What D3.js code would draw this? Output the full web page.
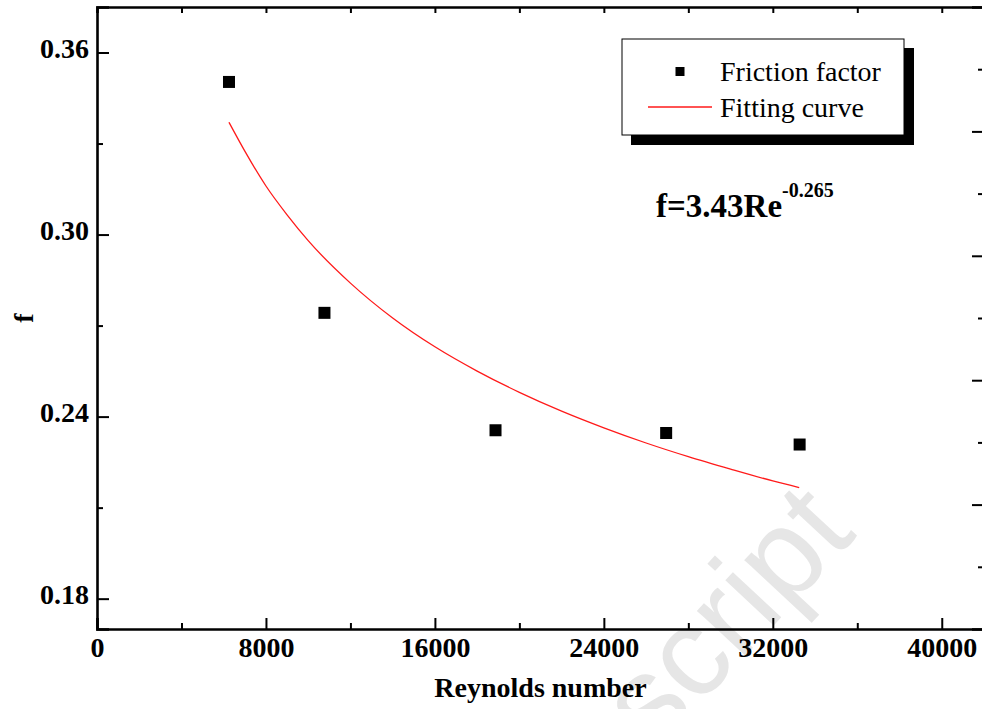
<!DOCTYPE html>
<html>
<head>
<meta charset="utf-8">
<script src="https://cdn.jsdelivr.net/npm/d3@7/dist/d3.min.js"></script>
<style>
  body { margin: 0; background: #fff; }
  svg text { font-family: "Liberation Serif", "Times New Roman", serif; fill: #000; }
  .axis path, .axis line { stroke: #000; }
  .axis text { font-size: 28px; font-weight: bold; }
</style>
</head>
<body>
<div id="chart"></div>
<script>
// measured friction factor points
const reynolds = [6250, 10770, 18870, 26950, 33270];
const friction = [0.3503, 0.2742, 0.2355, 0.2346, 0.2308];

// fitting curve
const fitRe = [6250, 7000, 8000, 9000, 10000, 12000, 14000, 16000, 18000, 20000, 22000, 24000, 26000, 28000, 30000, 32000, 33250];
const fitF = [0.337, 0.3275, 0.316, 0.3065, 0.298, 0.284, 0.2725, 0.263, 0.255, 0.248, 0.2418, 0.2363, 0.2313, 0.2268, 0.2227, 0.2188, 0.2166];

const xTicks = [0, 8000, 16000, 24000, 32000, 40000];
const yTicks = [0.18, 0.24, 0.30, 0.36];

const width = 982, height = 709;
const margin = { top: 7, right: -2, bottom: 80, left: 97 };
const plotW = width - margin.left - margin.right;
const plotH = height - margin.top - margin.bottom;

const svg = d3.select("#chart").append("svg")
    .attr("width", width)
    .attr("height", height);

// faint watermark behind the plot
svg.append("text")
    .attr("transform", "translate(858,535) rotate(-47)")
    .attr("text-anchor", "end")
    .style("font-family", "'Liberation Sans', Arial, sans-serif")
    .style("font-size", "125px")
    .style("fill", "#e6e6e6")
    .text("Manuscript");

const g = svg.append("g")
    .attr("transform", `translate(${margin.left},${margin.top})`);

const x = d3.scaleLinear().domain([0, 42000]).range([0, plotW]);
const y = d3.scaleLinear().domain([0.17, 0.375]).range([plotH, 0]);
// unlabelled right-hand axis
const y2 = d3.scaleLinear().domain([0, 5]).range([plotH, 0]);

// bottom axis
g.append("g")
    .attr("class", "axis")
    .attr("transform", `translate(0,${plotH})`)
    .call(d3.axisBottom(x).tickValues(xTicks).tickSize(-11).tickPadding(8).tickFormat(d3.format("d")))
    .call(a => a.select(".domain").attr("stroke-width", 2.6))
    .call(a => a.selectAll(".tick line").attr("stroke-width", 2));

g.append("g")
    .attr("class", "axis")
    .attr("transform", `translate(0,${plotH})`)
    .call(d3.axisBottom(x).tickValues(d3.range(4000, 42000, 8000)).tickSize(-6).tickFormat(""))
    .call(a => a.select(".domain").remove())
    .call(a => a.selectAll(".tick line").attr("stroke-width", 2));

// top axis
g.append("g")
    .attr("class", "axis")
    .call(d3.axisTop(x).tickValues(d3.range(4000, 42000, 4000)).tickSize(-6).tickFormat(""))
    .call(a => a.select(".domain").attr("stroke-width", 2.6))
    .call(a => a.selectAll(".tick line").attr("stroke-width", 2));

// left axis
g.append("g")
    .attr("class", "axis")
    .call(d3.axisLeft(y).tickValues(yTicks).tickSize(-12).tickPadding(8).tickFormat(d3.format(".2f")))
    .call(a => a.select(".domain").attr("stroke-width", 2.6))
    .call(a => a.selectAll(".tick line").attr("stroke-width", 2))
    .call(a => a.selectAll(".tick text").attr("dy", "0.17em"));

g.append("g")
    .attr("class", "axis")
    .call(d3.axisLeft(y).tickValues([0.21, 0.27, 0.33]).tickSize(-6).tickFormat(""))
    .call(a => a.select(".domain").remove())
    .call(a => a.selectAll(".tick line").attr("stroke-width", 2));

// right axis
g.append("g")
    .attr("class", "axis")
    .attr("transform", `translate(${plotW},0)`)
    .call(d3.axisRight(y2).tickValues([1, 2, 3, 4]).tickSize(-12).tickFormat(""))
    .call(a => a.select(".domain").attr("stroke-width", 2.6))
    .call(a => a.selectAll(".tick line").attr("stroke-width", 2));

g.append("g")
    .attr("class", "axis")
    .attr("transform", `translate(${plotW},0)`)
    .call(d3.axisRight(y2).tickValues([0.5, 1.5, 2.5, 3.5, 4.5]).tickSize(-6).tickFormat(""))
    .call(a => a.select(".domain").remove())
    .call(a => a.selectAll(".tick line").attr("stroke-width", 2));

// axis titles
svg.append("text")
    .attr("x", margin.left + plotW / 2)
    .attr("y", 697)
    .attr("text-anchor", "middle")
    .style("font-size", "28px")
    .style("font-weight", "bold")
    .text("Reynolds number");

svg.append("text")
    .attr("transform", `translate(33,${margin.top + plotH / 2}) rotate(-90)`)
    .attr("text-anchor", "middle")
    .style("font-size", "28px")
    .style("font-weight", "bold")
    .text("f");

// fitting curve
const fitData = fitRe.map((r, i) => ({ re: r, f: fitF[i] }));
g.append("path")
    .datum(fitData)
    .attr("fill", "none")
    .attr("stroke", "#ff1a1a")
    .attr("stroke-width", 1.3)
    .attr("d", d3.line().x(d => x(d.re)).y(d => y(d.f)).curve(d3.curveMonotoneX));

// data points
const pts = reynolds.map((r, i) => ({ re: r, f: friction[i] }));
const sq = 12;
g.selectAll(".pt")
    .data(pts)
    .enter().append("rect")
    .attr("class", "pt")
    .attr("x", d => x(d.re) - sq / 2)
    .attr("y", d => y(d.f) - sq / 2)
    .attr("width", sq)
    .attr("height", sq)
    .attr("fill", "#000");

// legend with drop shadow
const legend = svg.append("g");
legend.append("rect")
    .attr("x", 631).attr("y", 48)
    .attr("width", 283).attr("height", 97)
    .attr("fill", "#000");
legend.append("rect")
    .attr("x", 622).attr("y", 39)
    .attr("width", 282).attr("height", 96)
    .attr("fill", "#fff")
    .attr("stroke", "#000")
    .attr("stroke-width", 1);
legend.append("rect")
    .attr("x", 675.5).attr("y", 67)
    .attr("width", 9).attr("height", 9)
    .attr("fill", "#000");
legend.append("line")
    .attr("x1", 648).attr("x2", 712)
    .attr("y1", 107).attr("y2", 107)
    .attr("stroke", "#ff1a1a")
    .attr("stroke-width", 1.3);
legend.append("text")
    .attr("x", 720).attr("y", 81)
    .style("font-size", "28px")
    .text("Friction factor");
legend.append("text")
    .attr("x", 720).attr("y", 117)
    .style("font-size", "28px")
    .text("Fitting curve");

// fitted equation
const eq = svg.append("text")
    .attr("x", 656)
    .attr("y", 217)
    .style("font-size", "33px")
    .style("font-weight", "bold");
eq.append("tspan").text("f=3.43Re");
eq.append("tspan")
    .attr("dy", -20)
    .style("font-size", "20px")
    .text("-0.265");
</script>
</body>
</html>
